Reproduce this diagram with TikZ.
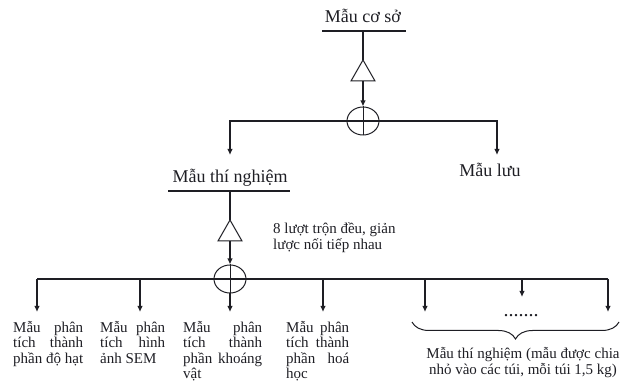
\documentclass[tikz,border=0pt]{standalone}
\usepackage{fontspec}
\setmainfont{Liberation Serif}
\usetikzlibrary{arrows.meta,shapes.geometric,decorations.pathreplacing}
\definecolor{ink}{HTML}{1E1E24}
\newcommand\jline[2]{\makebox[#1][s]{#2}}
\begin{document}
\begin{tikzpicture}[x=1pt,y=-1pt,
  line/.style={draw=ink, line width=1.3pt},
  bar/.style={draw=ink, line width=2pt},
  arr/.style={draw=ink, line width=1.3pt, -{Latex[length=6pt,width=5.5pt]}},
  sym/.style={draw=ink, line width=1pt},
  circ/.style={ellipse, draw=ink, line width=1pt, minimum width=32pt, minimum height=28pt, inner sep=0pt},
  big/.style={font=\fontsize{18}{20}\selectfont, text=ink, inner sep=0pt, anchor=base},
  small/.style={font=\fontsize{15}{16}\selectfont, text=ink, inner sep=0pt},
  col/.style={font=\fontsize{15}{15.3}\selectfont, text=ink, inner sep=0pt, anchor=base west}]
\useasboundingbox (0,0) rectangle (627,382);

% ---- top: Mau co so
\node[big] (top) at (363,22.5) {Mẫu cơ sở};
\coordinate (b1l) at (322,31); \coordinate (b1r) at (406,31); \coordinate (b1m) at (363,31);
\draw[bar] (b1l) -- (b1r);
\coordinate (t1a) at (363,60); \coordinate (t1l) at (351,81); \coordinate (t1r) at (375,81); \coordinate (t1b) at (363,81);
\draw[line] (b1m) -- (t1a);
\draw[sym] (t1a) -- (t1l) -- (t1r) -- cycle;
\node[circ] (c1) at (363,121) {};
\draw[arr] (t1b) -- (c1.north);
\draw[sym] (c1.north) -- (c1.south);
\coordinate (a1) at (230,155); \coordinate (a2) at (497,155);
\draw[arr] (c1.center) -| (a1);
\draw[arr] (c1.center) -| (a2);
\node[big] (luu) at (490,177) {Mẫu lưu};

% ---- Mau thi nghiem
\node[big] (tn) at (230,183) {Mẫu thí nghiệm};
\coordinate (b2l) at (168,191); \coordinate (b2r) at (290,191); \coordinate (b2m) at (230,191);
\draw[bar] (b2l) -- (b2r);
\coordinate (t2a) at (230,220); \coordinate (t2l) at (218,241); \coordinate (t2r) at (242,241); \coordinate (t2b) at (230,241);
\draw[line] (b2m) -- (t2a);
\draw[sym] (t2a) -- (t2l) -- (t2r) -- cycle;
\node[circ] (c2) at (230,279) {};
\draw[arr] (t2b) -- (c2.north);
\node[small, anchor=base west] (mix) at (273,233.5)
  {\begin{tabular}[t]{@{}l@{}}8 lượt trộn đều, giản\\ lược nối tiếp nhau\end{tabular}};

% ---- bottom distribution line
\coordinate (hl) at (37,279); \coordinate (hr) at (608,279);
\draw[line] (hl) -- (hr);
\coordinate (d1) at (37,312);  \coordinate (d2) at (140,312); \coordinate (d3) at (230,312);
\coordinate (d4) at (323,312); \coordinate (d5) at (425,312); \coordinate (d6) at (522,297);
\coordinate (d7) at (608,312);
\draw[arr] (hl) -- (d1);
\draw[arr] (c2.center) -| (d2);
\draw[arr] (c2.south) -- (d3);
\draw[arr] (c2.center) -| (d4);
\draw[arr] (c2.center) -| (d5);
\draw[arr] (c2.center) -| (d6);
\draw[arr] (hr) -- (d7);
\draw[sym] (c2.north) -- (c2.south);

% ---- dots and brace
\node[font=\fontsize{20}{20}\selectfont, text=ink, inner sep=0pt] (dots) at (521,316) {.......};
\coordinate (brr) at (619,322); \coordinate (brl) at (412,322);
\draw[sym, decorate, decoration={brace, amplitude=17pt}] (brr) -- (brl);
\node[small, anchor=base] (bag) at (523,358.5)
  {\begin{tabular}[t]{@{}c@{}}Mẫu thí nghiệm (mẫu được chia\\ nhỏ vào các túi, mỗi túi 1,5 kg)\end{tabular}};

% ---- analysis labels
\node[col] (L1) at (13,332.5)
  {\begin{tabular}[t]{@{}l@{}}\jline{70pt}{Mẫu phân}\\ \jline{70pt}{tích thành}\\ \jline{70pt}{phần độ hạt}\end{tabular}};
\node[col] (L2) at (100,332.5)
  {\begin{tabular}[t]{@{}l@{}}\jline{65pt}{Mẫu phân}\\ \jline{65pt}{tích hình}\\ ảnh SEM\end{tabular}};
\node[col] (L3) at (183,332.5)
  {\begin{tabular}[t]{@{}l@{}}\jline{79pt}{Mẫu phân}\\ \jline{79pt}{tích thành}\\ \jline{79pt}{phần khoáng}\\ vật\end{tabular}};
\node[col] (L4) at (286,332.5)
  {\begin{tabular}[t]{@{}l@{}}\jline{63pt}{Mẫu phân}\\ \jline{63pt}{tích thành}\\ \jline{63pt}{phần hoá}\\ học\end{tabular}};
\end{tikzpicture}
\end{document}
